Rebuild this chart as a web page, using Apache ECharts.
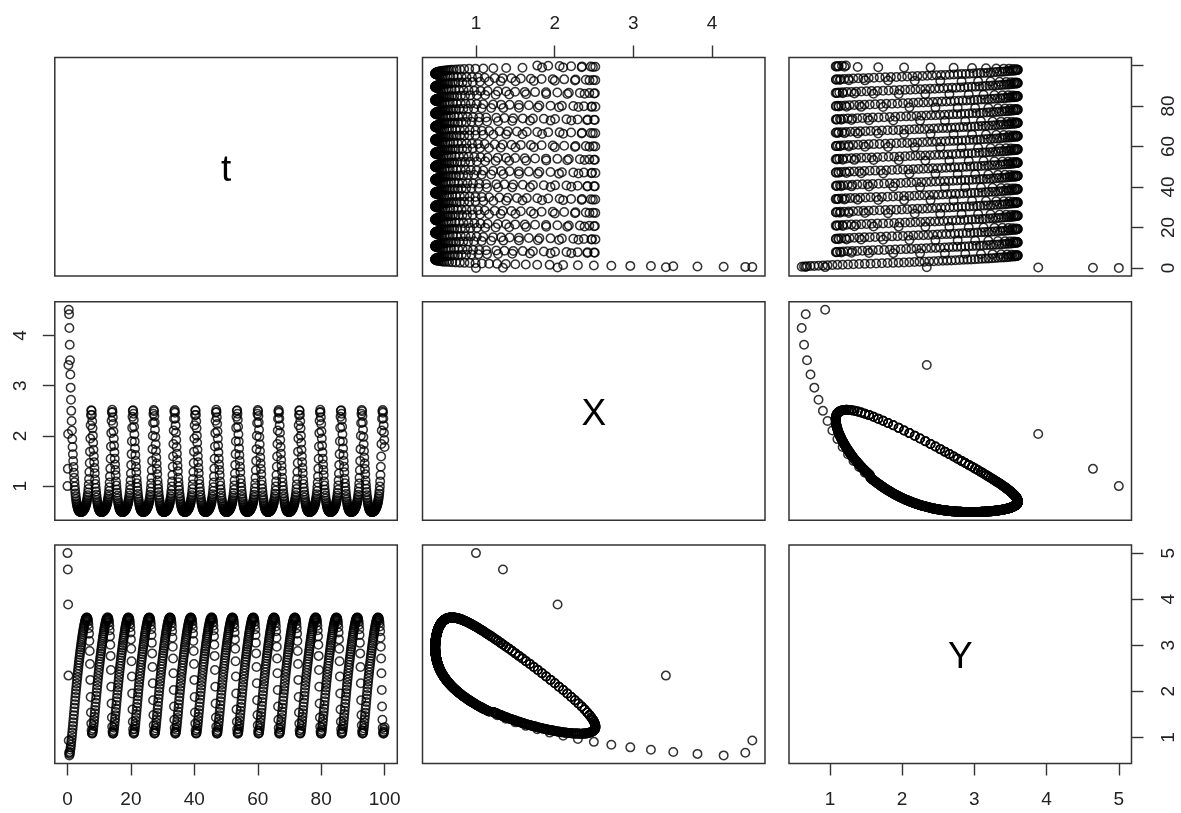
<!DOCTYPE html>
<html>
<head>
<meta charset="utf-8">
<style>
  html, body { margin: 0; padding: 0; background: #ffffff; }
  #chart { width: 1181px; height: 813px; }
</style>
<script src="https://cdn.jsdelivr.net/npm/echarts@6/dist/echarts.min.js"></script>
</head>
<body>
<div id="chart"></div>
<script>
// ---------------- data (read / estimated from the reference) ----------------
const varNames = ['t', 'X', 'Y'];
const timeStep = 0.1;      // sampling step of the plotted series
const tEnd = 100;

// start-up transient, t = 0.0 ... 2.0 (one value per 0.1)
const transientX = [1.000, 1.343, 2.037, 3.413, 4.511, 4.422, 4.147, 3.814, 3.507, 3.223,
                    2.961, 2.720, 2.498, 2.295, 2.108, 1.936, 1.778, 1.633, 1.500, 1.379, 1.268];
const transientY = [5.000, 4.642, 3.884, 2.341, 0.934, 0.665, 0.609, 0.642, 0.683, 0.731,
                    0.784, 0.842, 0.903, 0.967, 1.034, 1.104, 1.176, 1.250, 1.326, 1.404, 1.483];

// one turn of the limit cycle (period 6.56), tabulated every 0.02 of phase,
// phase 0 corresponds to t = 2.1
const cycleStart = 2.1;
const cyclePeriod = 6.56;
const cycleStep = 0.02;
const cycleX = [
 1.167, 1.148, 1.129, 1.111, 1.093,
 1.076, 1.059, 1.042, 1.026, 1.010,
 0.994, 0.979, 0.963, 0.949, 0.934,
 0.920, 0.906, 0.893, 0.880, 0.867,
 0.854, 0.842, 0.830, 0.818, 0.807,
 0.796, 0.785, 0.775, 0.764, 0.754,
 0.744, 0.735, 0.725, 0.716, 0.708,
 0.699, 0.691, 0.683, 0.675, 0.667,
 0.660, 0.653, 0.646, 0.639, 0.632,
 0.626, 0.620, 0.614, 0.608, 0.602,
 0.597, 0.592, 0.587, 0.582, 0.577,
 0.573, 0.568, 0.564, 0.560, 0.556,
 0.552, 0.548, 0.545, 0.541, 0.538,
 0.535, 0.532, 0.529, 0.526, 0.524,
 0.521, 0.519, 0.516, 0.514, 0.512,
 0.510, 0.508, 0.506, 0.504, 0.502,
 0.501, 0.499, 0.497, 0.496, 0.495,
 0.494, 0.492, 0.491, 0.490, 0.489,
 0.488, 0.488, 0.487, 0.486, 0.485,
 0.485, 0.484, 0.484, 0.484, 0.483,
 0.483, 0.483, 0.483, 0.482, 0.482,
 0.482, 0.482, 0.482, 0.483, 0.483,
 0.483, 0.483, 0.484, 0.484, 0.484,
 0.485, 0.485, 0.486, 0.486, 0.487,
 0.487, 0.488, 0.489, 0.489, 0.490,
 0.491, 0.492, 0.493, 0.494, 0.495,
 0.496, 0.497, 0.498, 0.499, 0.500,
 0.501, 0.503, 0.504, 0.505, 0.507,
 0.508, 0.509, 0.511, 0.512, 0.514,
 0.515, 0.517, 0.519, 0.520, 0.522,
 0.524, 0.526, 0.528, 0.529, 0.531,
 0.534, 0.536, 0.538, 0.540, 0.542,
 0.544, 0.547, 0.549, 0.551, 0.554,
 0.556, 0.559, 0.562, 0.564, 0.567,
 0.570, 0.573, 0.576, 0.579, 0.582,
 0.585, 0.589, 0.592, 0.595, 0.599,
 0.602, 0.606, 0.610, 0.614, 0.618,
 0.622, 0.626, 0.630, 0.634, 0.639,
 0.644, 0.648, 0.653, 0.658, 0.663,
 0.669, 0.674, 0.680, 0.685, 0.691,
 0.698, 0.704, 0.710, 0.717, 0.724,
 0.731, 0.739, 0.746, 0.754, 0.762,
 0.771, 0.779, 0.788, 0.798, 0.808,
 0.818, 0.828, 0.839, 0.850, 0.862,
 0.874, 0.887, 0.900, 0.914, 0.929,
 0.944, 0.960, 0.976, 0.994, 1.012,
 1.031, 1.051, 1.072, 1.094, 1.117,
 1.141, 1.166, 1.193, 1.221, 1.250,
 1.281, 1.314, 1.348, 1.384, 1.422,
 1.461, 1.502, 1.546, 1.591, 1.637,
 1.686, 1.736, 1.787, 1.840, 1.893,
 1.948, 2.002, 2.055, 2.108, 2.160,
 2.211, 2.258, 2.302, 2.343, 2.380,
 2.414, 2.442, 2.466, 2.486, 2.500,
 2.510, 2.516, 2.518, 2.516, 2.511,
 2.501, 2.489, 2.475, 2.459, 2.440,
 2.418, 2.396, 2.372, 2.347, 2.320,
 2.292, 2.265, 2.237, 2.209, 2.180,
 2.150, 2.121, 2.092, 2.063, 2.034,
 2.005, 1.976, 1.947, 1.918, 1.890,
 1.862, 1.834, 1.806, 1.779, 1.751,
 1.724, 1.698, 1.672, 1.646, 1.620,
 1.595, 1.570, 1.546, 1.521, 1.498,
 1.474, 1.451, 1.428, 1.406, 1.383,
 1.362, 1.340, 1.319, 1.298, 1.278,
 1.258, 1.238, 1.218
];
const cycleY = [
 1.562, 1.578, 1.594, 1.609, 1.625,
 1.641, 1.657, 1.673, 1.688, 1.704,
 1.720, 1.736, 1.751, 1.767, 1.782,
 1.798, 1.813, 1.829, 1.844, 1.860,
 1.875, 1.890, 1.905, 1.921, 1.936,
 1.951, 1.966, 1.981, 1.996, 2.011,
 2.026, 2.041, 2.055, 2.070, 2.084,
 2.099, 2.113, 2.127, 2.142, 2.156,
 2.170, 2.184, 2.198, 2.212, 2.226,
 2.240, 2.254, 2.267, 2.281, 2.294,
 2.308, 2.321, 2.334, 2.348, 2.361,
 2.374, 2.387, 2.400, 2.413, 2.426,
 2.439, 2.452, 2.464, 2.477, 2.489,
 2.502, 2.514, 2.526, 2.539, 2.551,
 2.563, 2.575, 2.587, 2.599, 2.611,
 2.623, 2.635, 2.647, 2.658, 2.670,
 2.682, 2.693, 2.705, 2.716, 2.728,
 2.739, 2.750, 2.761, 2.773, 2.784,
 2.795, 2.806, 2.817, 2.828, 2.839,
 2.850, 2.861, 2.872, 2.882, 2.893,
 2.904, 2.914, 2.925, 2.935, 2.946,
 2.956, 2.966, 2.976, 2.987, 2.997,
 3.007, 3.017, 3.027, 3.037, 3.047,
 3.057, 3.067, 3.077, 3.086, 3.096,
 3.106, 3.115, 3.125, 3.134, 3.144,
 3.153, 3.162, 3.171, 3.181, 3.190,
 3.199, 3.208, 3.217, 3.226, 3.235,
 3.244, 3.253, 3.261, 3.270, 3.278,
 3.287, 3.295, 3.303, 3.312, 3.320,
 3.328, 3.336, 3.344, 3.352, 3.360,
 3.368, 3.375, 3.383, 3.390, 3.398,
 3.405, 3.412, 3.419, 3.426, 3.433,
 3.440, 3.447, 3.454, 3.460, 3.467,
 3.473, 3.479, 3.485, 3.491, 3.497,
 3.503, 3.509, 3.514, 3.520, 3.525,
 3.530, 3.535, 3.540, 3.545, 3.549,
 3.554, 3.558, 3.562, 3.566, 3.570,
 3.574, 3.577, 3.581, 3.584, 3.586,
 3.589, 3.591, 3.593, 3.595, 3.597,
 3.598, 3.599, 3.600, 3.601, 3.601,
 3.601, 3.601, 3.600, 3.599, 3.598,
 3.596, 3.594, 3.592, 3.589, 3.586,
 3.582, 3.578, 3.573, 3.568, 3.562,
 3.556, 3.549, 3.541, 3.533, 3.524,
 3.515, 3.505, 3.493, 3.481, 3.469,
 3.455, 3.440, 3.424, 3.407, 3.389,
 3.370, 3.349, 3.327, 3.303, 3.278,
 3.252, 3.224, 3.193, 3.161, 3.127,
 3.091, 3.052, 3.011, 2.968, 2.922,
 2.874, 2.823, 2.769, 2.713, 2.654,
 2.592, 2.528, 2.461, 2.393, 2.321,
 2.248, 2.175, 2.101, 2.027, 1.952,
 1.877, 1.805, 1.736, 1.669, 1.604,
 1.542, 1.485, 1.432, 1.384, 1.339,
 1.299, 1.262, 1.230, 1.202, 1.177,
 1.156, 1.138, 1.122, 1.110, 1.099,
 1.092, 1.086, 1.082, 1.080, 1.080,
 1.082, 1.083, 1.086, 1.090, 1.095,
 1.101, 1.107, 1.114, 1.121, 1.130,
 1.139, 1.148, 1.157, 1.167, 1.178,
 1.188, 1.199, 1.211, 1.222, 1.234,
 1.246, 1.259, 1.271, 1.284, 1.297,
 1.310, 1.323, 1.337, 1.350, 1.364,
 1.378, 1.392, 1.406, 1.420, 1.435,
 1.449, 1.463, 1.478, 1.493, 1.507,
 1.522, 1.537, 1.551
];

// axis ticks / labels
const tTicks = [0, 20, 40, 60, 80, 100];
const tTickLabelsRight = [0, 20, 40, 60, 80];
const xTicks = [1, 2, 3, 4];
const yTicks = [1, 2, 3, 4, 5];

// ---------------- assemble the sampled time series ----------------
const tVals = [], xVals = [], yVals = [];
const nSamples = Math.round(tEnd / timeStep) + 1;
for (let n = 0; n < nSamples; n++) {
  const t = +(n * timeStep).toFixed(3);
  tVals.push(t);
  if (n < transientX.length) {
    xVals.push(transientX[n]);
    yVals.push(transientY[n]);
  } else {
    // look up the tabulated cycle entry at this phase (no interpolation)
    const idx = Math.round((t - cycleStart) / cycleStep) % cycleX.length;
    xVals.push(cycleX[idx]);
    yVals.push(cycleY[idx]);
  }
}
const vars = [tVals, xVals, yVals];

// padded ranges (R style, 4% each side)
function padRange(arr) {
  let lo = Infinity, hi = -Infinity;
  arr.forEach(v => { if (v < lo) lo = v; if (v > hi) hi = v; });
  const p = (hi - lo) * 0.04;
  return [lo - p, hi + p];
}
const ranges = vars.map(padRange);

// ---------------- layout ----------------
const colLeft = [54.8, 422.5, 789.0];
const colWidth = 342.5;
const rowTop = [57.5, 301.7, 545.0];
const rowHeight = 218.5;

const FONT = 'Liberation Sans, Arial, Helvetica, sans-serif';
const INK = '#000000';

const grids = [], xAxes = [], yAxes = [], series = [], graphics = [];

function hiddenAxis(gi, range) {
  return { type: 'value', gridIndex: gi, min: range[0], max: range[1], show: false,
           axisLine: { onZero: false }, splitLine: { show: false } };
}
function shownAxis(gi, range, position, ticks, labels, margin, rotate, vAlign) {
  const lab = { show: true, customValues: labels, fontSize: 19, fontFamily: FONT,
                color: '#222', margin: margin };
  if (rotate) { lab.rotate = 90; lab.align = 'center'; lab.verticalAlign = vAlign; }
  return {
    type: 'value', gridIndex: gi, min: range[0], max: range[1], position: position,
    axisLine: { show: false, onZero: false },
    axisTick: { show: true, inside: false, length: 12, customValues: ticks,
                lineStyle: { color: '#333', width: 1.4 } },
    axisLabel: lab,
    splitLine: { show: false }
  };
}

for (let r = 0; r < 3; r++) {
  for (let c = 0; c < 3; c++) {
    const gi = r * 3 + c;
    grids.push({
      left: colLeft[c], top: rowTop[r], width: colWidth, height: rowHeight,
      show: true, borderColor: '#333', borderWidth: 1.5, backgroundColor: 'transparent'
    });
    let xa = hiddenAxis(gi, ranges[c]);
    if (r === 2 && c === 0) xa = shownAxis(gi, ranges[c], 'bottom', tTicks, tTicks, 27, false);
    if (r === 0 && c === 1) xa = shownAxis(gi, ranges[c], 'top', xTicks, xTicks, 24, false);
    if (r === 2 && c === 2) xa = shownAxis(gi, ranges[c], 'bottom', yTicks, yTicks, 27, false);
    xAxes.push(xa);

    let ya = hiddenAxis(gi, ranges[r]);
    if (r === 0 && c === 2) ya = shownAxis(gi, ranges[r], 'right', tTicks, tTickLabelsRight, 28, true, 'top');
    if (r === 1 && c === 0) ya = shownAxis(gi, ranges[r], 'left', xTicks, xTicks, 25, true, 'bottom');
    if (r === 2 && c === 2) ya = shownAxis(gi, ranges[r], 'right', yTicks, yTicks, 28, true, 'top');
    yAxes.push(ya);

    if (r === c) {
      graphics.push({
        type: 'text',
        x: colLeft[c] + colWidth / 2,
        y: rowTop[r] + rowHeight / 2 + 4,
        style: { text: varNames[r], fontSize: 37, fontFamily: FONT, fill: INK,
                 align: 'center', verticalAlign: 'middle' }
      });
    } else {
      const data = [];
      for (let i = 0; i < tVals.length; i++) data.push([vars[c][i], vars[r][i]]);
      series.push({
        type: 'scatter', xAxisIndex: gi, yAxisIndex: gi, data: data,
        symbol: 'circle', symbolSize: 8.5, silent: true, animation: false,
        itemStyle: { color: 'rgba(0,0,0,0)', borderColor: INK, borderWidth: 1.5 },
        emphasis: { disabled: true }
      });
    }
  }
}

const chart = echarts.init(document.getElementById('chart'), null, { renderer: 'canvas' });
chart.setOption({
  animation: false,
  backgroundColor: '#ffffff',
  grid: grids,
  xAxis: xAxes,
  yAxis: yAxes,
  series: series,
  graphic: graphics
});
</script>
</body>
</html>
